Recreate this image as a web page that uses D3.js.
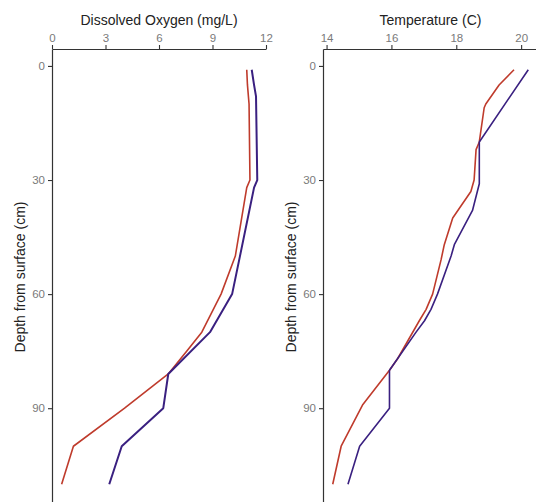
<!DOCTYPE html>
<html>
<head>
<meta charset="utf-8">
<script src="https://cdn.jsdelivr.net/npm/d3@7"></script>
<style>
  html, body { margin: 0; padding: 0; background: #fff; }
  svg { display: block; }
  text { font-family: "Liberation Sans", Arial, sans-serif; }
</style>
</head>
<body>
<svg id="chart" width="536" height="502"></svg>
<script>
// ---- Data ----
const doDepthRed   = [1, 5, 10, 30, 32, 50, 60, 70, 75, 81, 90, 100, 110];
const doRed        = [10.92, 10.96, 11.05, 11.10, 10.92, 10.28, 9.48, 8.40, 7.55, 6.52, 4.07, 1.20, 0.54];
const doDepthPurple = [1, 5, 8, 30, 32, 50, 60, 70, 81, 90, 100, 110];
const doPurple      = [11.20, 11.33, 11.44, 11.51, 11.33, 10.54, 10.10, 8.86, 6.52, 6.24, 3.91, 3.21];

const tDepthRed   = [1, 5, 10, 11, 20, 22, 30, 33, 40, 47, 51, 60, 64, 67, 77, 80, 89, 100, 110];
const tempRed     = [19.78, 19.32, 18.91, 18.86, 18.71, 18.61, 18.55, 18.45, 17.89, 17.63, 17.53, 17.27, 17.07, 16.86, 16.19, 15.94, 15.12, 14.45, 14.19];
const tDepthPurple = [1, 20, 31, 38, 47, 50, 60, 64, 67, 70, 80, 90, 100, 110];
const tempPurple   = [20.22, 18.71, 18.71, 18.50, 17.94, 17.84, 17.42, 17.22, 17.02, 16.76, 15.94, 15.94, 15.02, 14.66];

const depthTicks = [0, 30, 60, 90];
const doTicks = [0, 3, 6, 9, 12];
const tempTicks = [14, 16, 18, 20];

const colRed = "#bf3b2c";
const colPurple = "#3a2080";

// ---- Layout ----
const svg = d3.select("#chart");
const y = d3.scaleLinear().domain([-4.45, 115.45]).range([49, 505]);

const panels = [
  { title: "Dissolved Oxygen (mg/L)", domain: [0, 12], range: [52, 266], ticks: doTicks,
    series: [ {d: doDepthRed, v: doRed, c: colRed, w: 1.6}, {d: doDepthPurple, v: doPurple, c: colPurple, w: 2} ],
    ylabX: 20 },
  { title: "Temperature (C)", domain: [13.89, 20.52], range: [323, 538], ticks: tempTicks,
    series: [ {d: tDepthRed, v: tempRed, c: colRed, w: 1.6}, {d: tDepthPurple, v: tempPurple, c: colPurple, w: 1.6} ],
    ylabX: 291 }
];

panels.forEach(p => {
  const x = d3.scaleLinear().domain(p.domain).range(p.range);
  const g = svg.append("g");

  // lines
  p.series.forEach(s => {
    const pts = s.d.map((d, i) => [d, s.v[i]]);
    g.append("path")
      .datum(pts)
      .attr("fill", "none")
      .attr("stroke", s.c)
      .attr("stroke-width", s.w)
      .attr("stroke-linejoin", "round")
      .attr("d", d3.line().x(d => x(d[1])).y(d => y(d[0])));
  });

  // top axis
  const xa = g.append("g").attr("transform", `translate(0,${y.range()[0]})`)
    .call(d3.axisTop(x).tickValues(p.ticks).tickFormat(d3.format("d")).tickSize(4).tickPadding(3).tickSizeOuter(0));
  xa.select(".domain").attr("stroke", "#333").attr("stroke-width", 1.2);
  xa.selectAll(".tick line").attr("stroke", "#333").attr("stroke-width", 1.1);
  xa.selectAll(".tick text").attr("fill", "#7a7a7a").style("font-size", "11.5px");

  // left axis
  const ya = g.append("g").attr("transform", `translate(${p.range[0]},0)`)
    .call(d3.axisLeft(y).tickValues(depthTicks).tickFormat(d3.format("d")).tickSize(4).tickPadding(3).tickSizeOuter(0));
  ya.select(".domain").attr("stroke", "#333").attr("stroke-width", 1.2);
  ya.selectAll(".tick line").attr("stroke", "#333").attr("stroke-width", 1.1);
  ya.selectAll(".tick text").attr("fill", "#7a7a7a").style("font-size", "11.5px");

  // titles
  g.append("text")
    .attr("x", (p.range[0] + p.range[1]) / 2)
    .attr("y", 25)
    .attr("text-anchor", "middle")
    .attr("fill", "#222")
    .style("font-size", "14px")
    .text(p.title);

  g.append("text")
    .attr("transform", `translate(${p.ylabX},${(y.range()[0] + y.range()[1]) / 2}) rotate(-90)`)
    .attr("text-anchor", "middle")
    .attr("dy", "0.35em")
    .attr("fill", "#222")
    .style("font-size", "14px")
    .text("Depth from surface (cm)");
});
</script>
</body>
</html>
